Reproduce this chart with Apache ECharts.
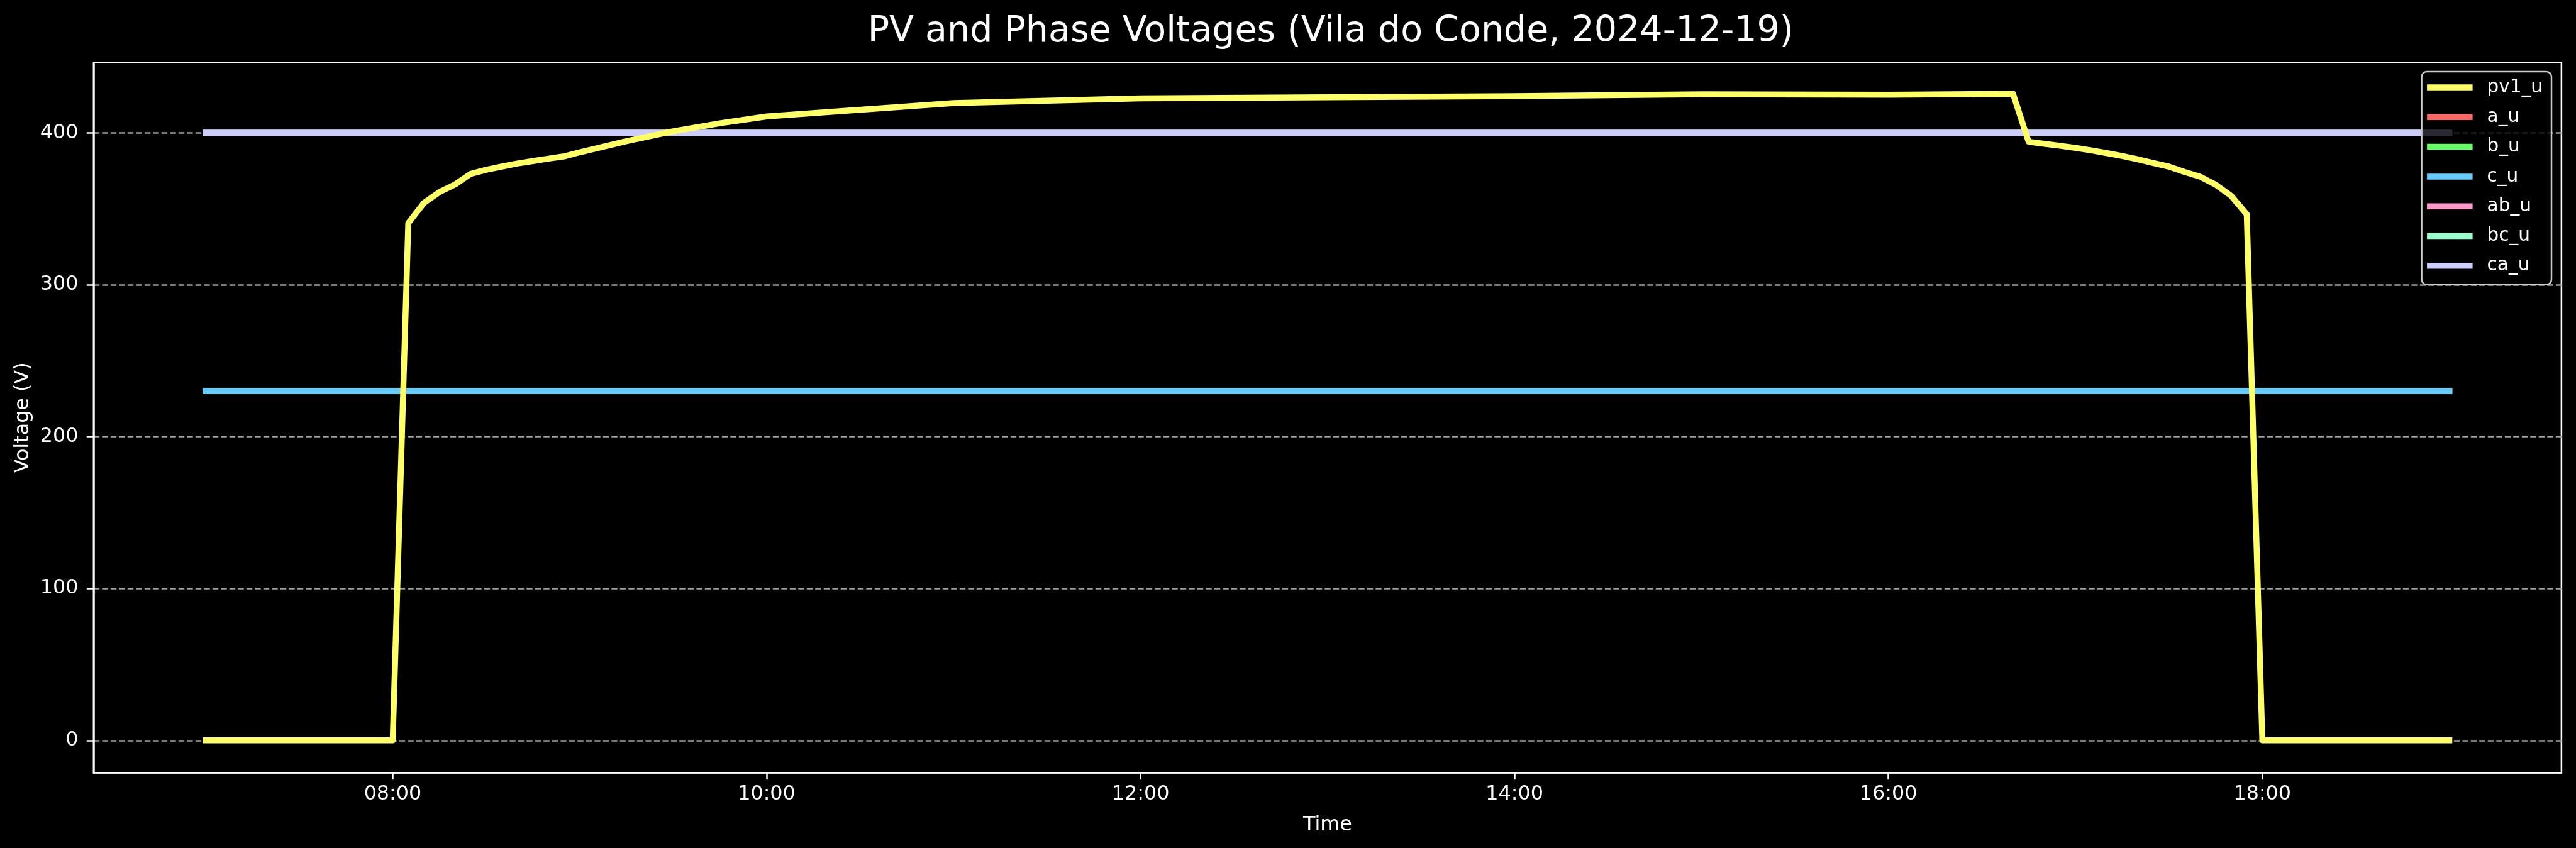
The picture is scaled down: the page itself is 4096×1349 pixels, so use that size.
<!DOCTYPE html>
<html><head><meta charset="utf-8">
<script src="https://cdn.jsdelivr.net/npm/echarts@6/dist/echarts.min.js"></script>
<style>html,body{margin:0;padding:0;background:#000;}#c{width:4096px;height:1349px;}</style>
</head><body><div id="c"></div>
<script>
// ---- data ----
const pvTimes = ["07:00","08:00","08:05","08:10","08:15","08:20","08:25","08:30","08:35","08:40","08:45","08:50","08:55","09:00","09:15","09:30","09:45","10:00","11:00","12:00","14:00","15:00","16:00","16:40","16:45","16:50","16:55","17:00","17:05","17:10","17:15","17:20","17:25","17:30","17:35","17:40","17:45","17:50","17:55","18:00","19:00"];
const pvValues = [0,0,340.6,353.8,361,366,373,375.7,377.8,379.8,381.4,383,384.5,387.2,394.5,401,406.3,410.8,419.6,422.7,424.1,425.4,425.1,425.7,394.1,392.8,391.5,390.1,388.5,386.7,384.8,382.6,380.1,377.8,374.3,371.2,365.9,358.5,346.4,0,0];
const phaseTimes = ["07:00","19:00"];
const aU = [230,230];
const bU = [230,230];
const cU = [230,230];
const abU = [400,400];
const bcU = [400,400];
const caU = [400,400];
const seriesNames = ["pv1_u","a_u","b_u","c_u","ab_u","bc_u","ca_u"];
const xTickHours = [8,10,12,14,16,18];
const xTickLabels = ["08:00","10:00","12:00","14:00","16:00","18:00"];
const yTicks = [0,100,200,300,400];
const yTickLabels = ["0","100","200","300","400"];

// ---- helpers ----
function toH(s){const p=s.split(":");return +p[0]+(+p[1])/60;}
function pairs(times, vals){return times.map((t,i)=>[toH(t),vals[i]]);}

const colors = {"pv1_u":"#ffff66","a_u":"#ff6666","b_u":"#66ff66","c_u":"#66ccff","ab_u":"#ff99cc","bc_u":"#99ffcc","ca_u":"#ccccff"};
const seriesData = {
  "pv1_u": pairs(pvTimes, pvValues),
  "a_u": pairs(phaseTimes, aU),
  "b_u": pairs(phaseTimes, bU),
  "c_u": pairs(phaseTimes, cU),
  "ab_u": pairs(phaseTimes, abU),
  "bc_u": pairs(phaseTimes, bcU),
  "ca_u": pairs(phaseTimes, caU)
};

const FONT = "DejaVu Sans";
const gridL = 148.8, gridR = 23.1, gridT = 99.6, gridB = 119.8;
const chart = echarts.init(document.getElementById('c'), null, {renderer:'canvas'});

const series = seriesNames.map(n => ({
  name: n, type: 'line', data: seriesData[n], showSymbol: false, symbol: 'none',
  z: n === 'pv1_u' ? 4 : 2,
  lineStyle: {color: colors[n], width: 9.5, cap: 'square', join: 'round'},
  itemStyle: {color: colors[n]},
  emphasis: {disabled: true}, animation: false
}));

chart.setOption({
  backgroundColor: '#000000',
  animation: false,
  title: {
    text: 'PV and Phase Voltages (Vila do Conde, 2024-12-19)',
    left: (gridL + (4096 - gridR)) / 2, top: 18, textAlign: 'center',
    textStyle: {color: '#ffffff', fontFamily: FONT, fontSize: 57, fontWeight: 'normal'}
  },
  legend: {
    data: seriesNames, orient: 'vertical', right: 39, top: 114,
    icon: 'rect', itemWidth: 72.5, itemHeight: 9.5, itemGap: 17.3,
    padding: [10, 14, 15, 8.5],
    backgroundColor: 'rgba(0,0,0,0.8)', borderColor: '#cccccc', borderWidth: 2.5, borderRadius: 8,
    textStyle: {color: '#ffffff', fontFamily: FONT, fontSize: 29.5, lineHeight: 30, padding: [0,0,0,18]},
    z: 10
  },
  grid: {left: gridL, right: gridR, top: gridT, bottom: gridB, show: true, borderColor: '#ffffff', borderWidth: 2.5, backgroundColor: 'transparent'},
  xAxis: {
    type: 'value', min: 6.4, max: 19.6,
    name: 'Time', nameLocation: 'middle', nameGap: 68,
    nameTextStyle: {color: '#ffffff', fontFamily: FONT, fontSize: 31.8},
    axisLine: {show: true, onZero: false, lineStyle: {color: '#ffffff', width: 2.5}},
    axisTick: {show: true, length: 11, lineStyle: {color: '#ffffff', width: 2.5}, customValues: xTickHours},
    axisLabel: {color: '#ffffff', fontFamily: FONT, fontSize: 31.8, margin: 19, customValues: xTickHours,
      formatter: v => { const i = xTickHours.indexOf(v); return i >= 0 ? xTickLabels[i] : ''; }},
    splitLine: {show: false}
  },
  yAxis: {
    type: 'value', min: -21.25, max: 446.25,
    name: 'Voltage (V)', nameLocation: 'middle', nameGap: 95, nameRotate: 90,
    nameTextStyle: {color: '#ffffff', fontFamily: FONT, fontSize: 31.8},
    axisLine: {show: true, onZero: false, lineStyle: {color: '#ffffff', width: 2.5}},
    axisTick: {show: true, length: 11, lineStyle: {color: '#ffffff', width: 2.5}, customValues: yTicks},
    axisLabel: {color: '#ffffff', fontFamily: FONT, fontSize: 31.8, margin: 24.4, customValues: yTicks,
      formatter: v => { const i = yTicks.indexOf(v); return i >= 0 ? yTickLabels[i] : ''; }},
    splitLine: {show: true, lineStyle: {color: '#a0a0a0', width: 2.5, type: [9.4, 4.1]}}
  },
  series: series
});
</script></body></html>
